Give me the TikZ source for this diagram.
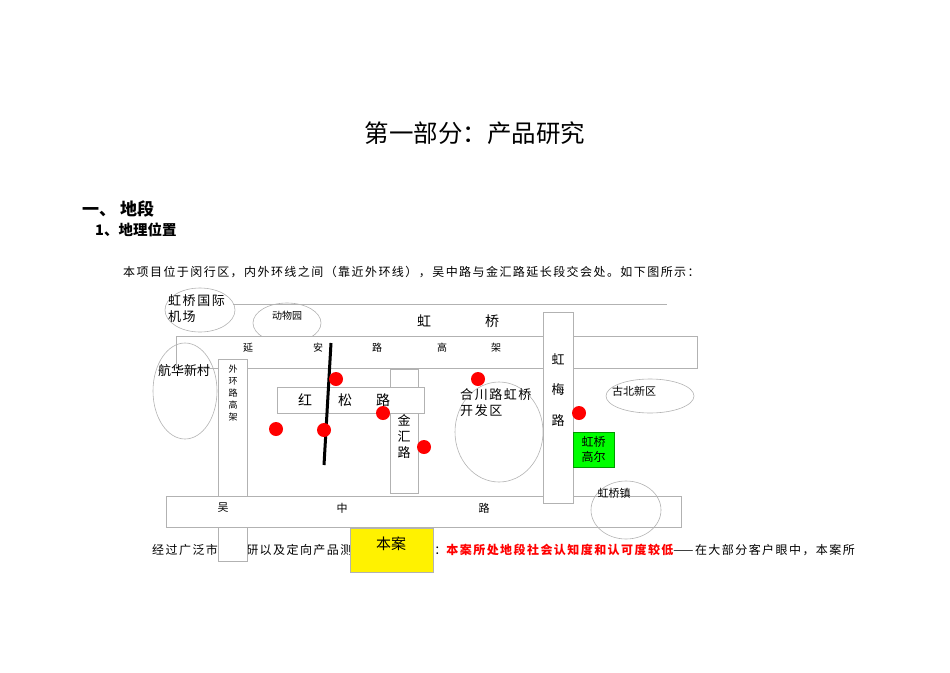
\documentclass[tikz,border=0pt]{standalone}
\usepackage{fontspec}
\setmainfont{Liberation Serif}
\newfontfamily\cjk{Noto Sans CJK SC}
\newfontfamily\cjkls[LetterSpace=12]{Noto Sans CJK SC}
\begin{document}
\begin{tikzpicture}[x=1pt,y=-1pt,
  road/.style={draw=black!30,fill=white,line width=0.8pt},
  area/.style={draw=black!30,line width=0.6pt},
  dot/.style={circle,fill=red,inner sep=0pt,minimum width=12pt,minimum height=14pt},
  t/.style={inner sep=0pt,font=\cjk\fontsize{#1}{#1}\selectfont},
  t/.default=11,
  vt/.style={inner sep=0pt,align=center,font=\cjk\fontsize{#1}{16}\selectfont}]
\useasboundingbox (0,0) rectangle (950,672);
\node[t=24.5] (title) at (475,133) {第一部分：产品研究};
\node[anchor=west,inner sep=0pt,font=\cjk\bfseries\fontsize{17}{17}\selectfont] (h1) at (82,209) {一、\ 地段};
\node[anchor=west,inner sep=0pt,font=\cjk\bfseries\fontsize{14.5}{14.5}\selectfont] (h2) at (95,230) {1、地理位置};
\node[anchor=west,inner sep=0pt,font=\cjkls\fontsize{12}{12}\selectfont] (p1) at (123,272) {本项目位于闵行区，内外环线之间（靠近外环线），吴中路与金汇路延长段交会处。如下图所示：};
\node[anchor=west,inner sep=0pt,font=\cjkls\fontsize{12}{12}\selectfont] (p2) at (152,550) {经过广泛市场调研以及定向产品测试，得出结论：\textcolor{red}{\bfseries 本案所处地段社会认知度和认可度较低}——在大部分客户眼中，本案所};
% top line
\draw[area] (233,304) -- (667,304);
\draw[area] (176,336) -- (176,343);
\draw[area] (200,310) ellipse (35 and 22);
\node[anchor=west,align=left,inner sep=0pt,font=\cjkls\fontsize{13}{16}\selectfont] (apt) at (168,309) {虹桥国际\\机场};
\draw[area] (287,323) ellipse (34 and 20);
\node[t=10] (zoo) at (287,316) {动物园};
\node[t=14] (hq1) at (424,321) {虹};
\node[t=14] (hq2) at (492,321) {桥};
% yanan
\draw[road] (176,336) rectangle (697,368);
\foreach \x/\c in {248/延,318/安,377/路,442/高,496/架}{\node[t=10] at (\x,348) {\c};}
\draw[area] (185,391) ellipse (32 and 48);
\node[t=13] (hh) at (184,371) {航华新村};
% waihuan
\draw[road] (218,359) rectangle (247,561);
\node[vt=9,font=\cjk\fontsize{9}{12}\selectfont] (wh) at (233,393) {外\\环\\路\\高\\架};
% wuzhong
\draw[road] (166,496) rectangle (681,527);
\foreach \x/\c in {223/吴,342/中,484/路}{\node[t=11] at (\x,508) {\c};}
\draw[road] (218,527) rectangle (247,561);
% jinhui
\draw[road] (390,369) rectangle (418,493);
\node[vt=13] (jh) at (404,436) {金\\汇\\路};
% hongsong
\draw[road] (277,387) rectangle (424,413);
\foreach \x/\c in {305/红,345/松,383/路}{\node[t=14] at (\x,400) {\c};}
% hongmei
\draw[road] (543,312) rectangle (573,503);
\foreach \y/\c in {359/虹,390/梅,421/路}{\node[t=13] at (558,\y) {\c};}
\draw[area] (499,432) ellipse (44 and 50);
\node[anchor=west,align=left,inner sep=0pt,font=\cjkls\fontsize{13}{16}\selectfont] (hc) at (460,403) {合川路虹桥\\开发区};
\draw[area] (650,396) ellipse (44 and 17);
\node[t=11] (gb) at (634,391) {古北新区};
\node[draw=green!60!black,fill=green,minimum width=41pt,minimum height=35pt,inner sep=0pt,align=center,font=\cjk\fontsize{12}{15}\selectfont] (golf) at (593.5,449.5) {虹桥\\高尔};
\draw[area] (626,510) ellipse (35 and 29);
\node[t=11] (hqz) at (614,493) {虹桥镇};
\node[draw=black!30,fill=yellow,minimum width=83pt,minimum height=44pt,inner sep=0pt] (ba) at (391.5,550) {};
\node[t=15] (bal) at (391,544) {本案};
% line
\draw[line width=3pt] (331,343) -- (324,465);
% dots
\foreach \p in {(336,379),(478,379),(383,413),(276,429),(324,430),(424,447),(579,413)}{\node[dot] at \p {};}
\end{tikzpicture}
\end{document}
